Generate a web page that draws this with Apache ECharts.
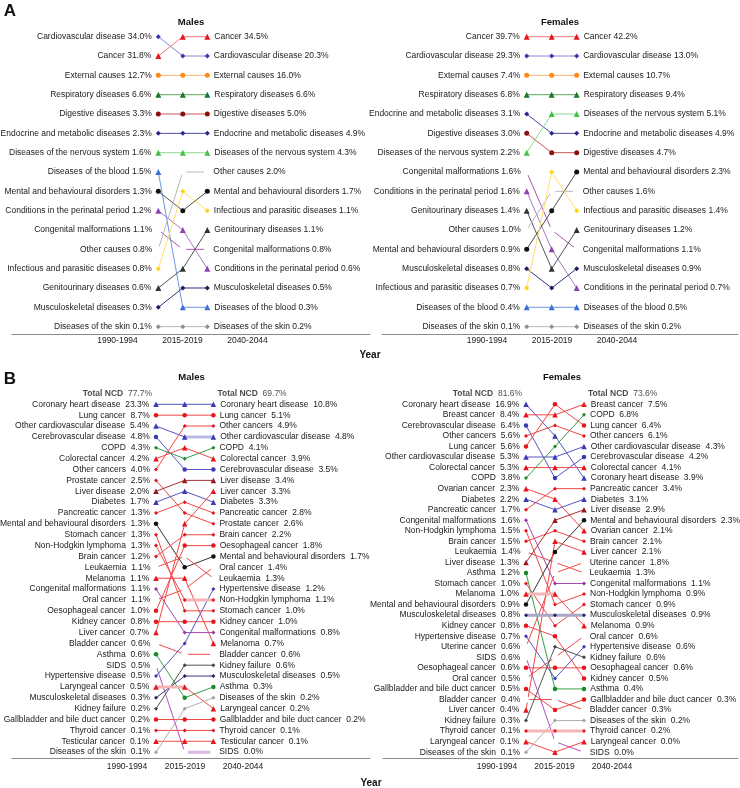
<!DOCTYPE html>
<html><head><meta charset="utf-8">
<script src="https://cdn.jsdelivr.net/npm/echarts@6/dist/echarts.min.js"></script>
<style>html,body{margin:0;padding:0;background:#fff}#c{width:740px;height:788px}</style>
</head><body><div id="c"></div>
<script>
const periods = ['1990-1994', '2015-2019', '2040-2044'];

// ---------- Panel A, Males ----------
const aMaleCauses = ['Cardiovascular disease','Cancer','External causes','Respiratory diseases','Digestive diseases','Endocrine and metabolic diseases','Diseases of the nervous system','Diseases of the blood','Mental and behavioural disorders','Conditions in the perinatal period','Congenital malformations','Other causes','Infectious and parasitic diseases','Genitourinary diseases','Musculoskeletal diseases','Diseases of the skin'];
const aMaleRank1990 = [1,2,3,4,5,6,7,8,9,10,11,12,13,14,15,16];
const aMaleRank2015 = [2,1,3,4,5,6,7,15,10,11,12,8,9,13,14,16];
const aMaleRank2040 = [2,1,3,4,5,6,7,15,9,13,12,8,10,11,14,16];
const aMaleVal1990 = [34.0,31.8,12.7,6.6,3.3,2.3,1.6,1.5,1.3,1.2,1.1,0.8,0.8,0.6,0.3,0.1];
const aMaleVal2040 = [20.3,34.5,16.0,6.6,5.0,4.9,4.3,0.3,1.7,0.6,0.8,2.0,1.1,1.1,0.5,0.2];

// ---------- Panel A, Females ----------
const aFemaleCauses = ['Cancer','Cardiovascular disease','External causes','Respiratory diseases','Endocrine and metabolic diseases','Digestive diseases','Diseases of the nervous system','Congenital malformations','Conditions in the perinatal period','Genitourinary diseases','Other causes','Mental and behavioural disorders','Musculoskeletal diseases','Infectious and parasitic diseases','Diseases of the blood','Diseases of the skin'];
const aFemaleRank1990 = [1,2,3,4,5,6,7,8,9,10,11,12,13,14,15,16];
const aFemaleRank2015 = [1,2,3,4,6,7,5,11,12,13,9,10,14,8,15,16];
const aFemaleRank2040 = [1,2,3,4,6,7,5,12,14,11,9,8,13,10,15,16];
const aFemaleVal1990 = [39.7,29.3,7.4,6.8,3.1,3.0,2.2,1.6,1.6,1.4,1.0,0.9,0.8,0.7,0.4,0.1];
const aFemaleVal2040 = [42.2,13.0,10.7,9.4,4.9,4.7,5.1,1.1,0.7,1.2,1.6,2.3,0.9,1.4,0.5,0.2];

// ---------- Panel B, Males ----------
const bMaleTotal = [77.7, 69.7];
const bMaleCauses = ['Coronary heart disease','Lung cancer','Other cardiovascular disease','Cerebrovascular disease','COPD','Colorectal cancer','Other cancers','Prostate cancer','Liver disease','Diabetes','Pancreatic cancer','Mental and behavioural disorders','Stomach cancer','Non-Hodgkin lymphoma','Brain cancer','Leukaemia','Melanoma','Congenital malformations','Oral cancer','Oesophageal cancer','Kidney cancer','Liver cancer','Bladder cancer','Asthma','SIDS','Hypertensive disease','Laryngeal cancer','Musculoskeletal diseases','Kidney failure','Gallbladder and bile duct cancer','Thyroid cancer','Testicular cancer','Diseases of the skin'];
const bMaleRank1990 = [1,2,3,4,5,6,7,8,9,10,11,12,13,14,15,16,17,18,19,20,21,22,23,24,25,26,27,28,29,30,31,32,33];
const bMaleRank2015 = [1,2,4,7,6,5,3,11,8,9,10,16,20,19,13,15,17,22,18,14,21,12,24,28,33,23,27,26,25,30,31,32,29];
const bMaleRank2040 = [1,2,4,7,5,6,3,12,8,10,11,15,20,19,13,17,23,22,16,14,21,9,24,27,33,18,29,26,25,30,31,32,28];
const bMaleVal1990 = [23.3,8.7,5.4,4.8,4.3,4.2,4.0,2.5,2.0,1.7,1.3,1.3,1.3,1.3,1.2,1.1,1.1,1.1,1.1,1.0,0.8,0.7,0.6,0.6,0.5,0.5,0.5,0.3,0.2,0.2,0.1,0.1,0.1];
const bMaleVal2040 = [10.8,5.1,4.8,3.5,4.1,3.9,4.9,2.6,3.4,3.3,2.8,1.7,1.0,1.1,2.2,1.3,0.7,0.8,1.4,1.8,1.0,3.3,0.6,0.3,0.0,1.2,0.2,0.5,0.6,0.2,0.1,0.1,0.2];
// segments drawn as a light, wide band: [cause, from period index, to period index]
const bMaleBands = [['Other cardiovascular disease',1,2],['Non-Hodgkin lymphoma',1,2],['Laryngeal cancer',0,1],['SIDS',1,2]];

// ---------- Panel B, Females ----------
const bFemaleTotal = [81.6, 73.6];
const bFemaleCauses = ['Coronary heart disease','Breast cancer','Cerebrovascular disease','Other cancers','Lung cancer','Other cardiovascular disease','Colorectal cancer','COPD','Ovarian cancer','Diabetes','Pancreatic cancer','Congenital malformations','Non-Hodgkin lymphoma','Brain cancer','Leukaemia','Liver disease','Asthma','Stomach cancer','Melanoma','Mental and behavioural disorders','Musculoskeletal diseases','Kidney cancer','Hypertensive disease','Uterine cancer','SIDS','Oesophageal cancer','Oral cancer','Gallbladder and bile duct cancer','Bladder cancer','Liver cancer','Kidney failure','Thyroid cancer','Laryngeal cancer','Diseases of the skin'];
const bFemaleRank1990 = [1,2,3,4,5,6,7,8,9,10,11,12,13,14,15,16,17,18,19,20,21,22,23,24,25,26,27,28,29,30,31,32,33,34];
const bFemaleRank2015 = [4,2,8,3,1,6,7,5,10,11,9,18,20,13,16,12,28,22,19,15,21,23,27,17,33,26,25,30,29,14,24,32,34,31];
const bFemaleRank2040 = [8,1,6,4,3,5,7,2,13,10,9,18,19,14,17,11,28,20,22,12,21,27,24,16,34,26,23,29,30,15,25,32,33,31];
const bFemaleVal1990 = [16.9,8.4,6.4,5.6,5.6,5.3,5.3,3.8,2.3,2.2,1.7,1.6,1.5,1.5,1.4,1.3,1.2,1.0,1.0,0.9,0.8,0.8,0.7,0.6,0.6,0.6,0.5,0.5,0.4,0.4,0.3,0.1,0.1,0.1];
const bFemaleVal2040 = [3.9,7.5,4.2,6.1,6.4,4.3,4.1,6.8,2.1,3.1,3.4,1.1,0.9,2.1,1.3,2.9,0.4,0.9,0.9,2.3,0.9,0.5,0.6,1.8,0.0,0.6,0.6,0.3,0.3,2.1,0.6,0.2,0.0,0.2];
const bFemaleBands = [['Melanoma',0,1],['Musculoskeletal diseases',0,2],['Thyroid cancer',0,2]];

// ---------- styles ----------
function S(sym, c, l, band) { return { sym: sym, c: c, l: l, band: band }; }
const styleA = {
  'Cancer': S('triangle', '#e8141c', '#f07878'),
  'Cardiovascular disease': S('diamond', '#3838a8', '#8888d0'),
  'External causes': S('circle', '#ff8a12', '#ffb574'),
  'Respiratory diseases': S('triangle', '#17782a', '#5aa560'),
  'Digestive diseases': S('circle', '#8b1010', '#c85454'),
  'Endocrine and metabolic diseases': S('diamond', '#26268c', '#4c4ca8'),
  'Diseases of the nervous system': S('triangle', '#45bf45', '#8edb8e'),
  'Diseases of the blood': S('triangle', '#3b6fd6', '#6c98e2'),
  'Mental and behavioural disorders': S('circle', '#111111', '#505050'),
  'Conditions in the perinatal period': S('triangle', '#8a45b0', '#a87ac8'),
  'Congenital malformations': S('emptyCircle', '#a02890', '#a858a8'),
  'Other causes': S('emptyDiamond', '#a0a0a0', '#b8b8b8'),
  'Infectious and parasitic diseases': S('diamond', '#ffd21a', '#ffe066'),
  'Genitourinary diseases': S('triangle', '#333333', '#555555'),
  'Musculoskeletal diseases': S('diamond', '#1c1c60', '#33337a'),
  'Diseases of the skin': S('diamond', '#909090', '#b8b8b8')
};
const R = '#e8141c', RL = '#f04848', RB = '#f7b4b4', BL = '#3a3ab4', BLL = '#5656c4', BLB = '#b9b9e6';
const styleB = {
  'Coronary heart disease': S('triangle', BL, BLL, BLB),
  'Other cardiovascular disease': S('triangle', BL, BLL, BLB),
  'Cerebrovascular disease': S('circle', BL, BLL, BLB),
  'Hypertensive disease': S('diamond', BL, BLL, BLB),
  'Diabetes': S('triangle', BL, BLL, BLB),
  'COPD': S('diamond', '#168a2a', '#3c9c4a', '#a8d8b0'),
  'Asthma': S('circle', '#168a2a', '#3c9c4a', '#a8d8b0'),
  'Liver disease': S('triangle', '#961818', '#a83030', '#dca0a0'),
  'Mental and behavioural disorders': S('circle', '#111111', '#333333', '#bbbbbb'),
  'Congenital malformations': S('diamond', '#9a30a8', '#a848b4', '#dcb4e4'),
  'SIDS': S('emptyCircle', '#a038b0', '#b050c0', '#dcb8e6'),
  'Musculoskeletal diseases': S('diamond', '#22226a', '#3a3a82', '#a8a8c8'),
  'Kidney failure': S('diamond', '#444444', '#555555', '#bbbbbb'),
  'Diseases of the skin': S('diamond', '#a0a0a0', '#b0b0b0', '#dddddd'),
  'Lung cancer': S('circle', R, RL, RB),
  'Other cancers': S('diamond', R, RL, RB),
  'Colorectal cancer': S('triangle', R, RL, RB),
  'Prostate cancer': S('diamond', R, RL, RB),
  'Pancreatic cancer': S('diamond', R, RL, RB),
  'Stomach cancer': S('diamond', R, RL, RB),
  'Non-Hodgkin lymphoma': S('diamond', R, RL, RB),
  'Brain cancer': S('diamond', R, RL, RB),
  'Leukaemia': S('emptyDiamond', R, RL, RB),
  'Melanoma': S('triangle', R, RL, RB),
  'Oral cancer': S('emptyCircle', R, RL, RB),
  'Oesophageal cancer': S('circle', R, RL, RB),
  'Kidney cancer': S('circle', R, RL, RB),
  'Liver cancer': S('triangle', R, RL, RB),
  'Bladder cancer': S('emptyCircle', R, RL, RB),
  'Laryngeal cancer': S('triangle', R, RL, RB),
  'Gallbladder and bile duct cancer': S('circle', R, RL, RB),
  'Thyroid cancer': S('diamond', R, RL, RB),
  'Testicular cancer': S('triangle', R, RL, RB),
  'Breast cancer': S('triangle', R, RL, RB),
  'Ovarian cancer': S('triangle', R, RL, RB),
  'Uterine cancer': S('emptyCircle', R, RL, RB)
};

const FONT = '"Liberation Sans", Arial, sans-serif';
const TXT = '#1a1a1a';

// ---------- layout (pixels) ----------
const panels = [
  { causes: aMaleCauses, r: [aMaleRank1990, aMaleRank2015, aMaleRank2040], v0: aMaleVal1990, v2: aMaleVal2040, style: styleA, sep: ' ', big: true,
    gL: 12, gR: 370, x0: 158.3, xs: 24.5, row1: 36.7, rs: 19.33, axisY: 334, lc: 117.5, lsp: 65, lm: 1 },
  { causes: aFemaleCauses, r: [aFemaleRank1990, aFemaleRank2015, aFemaleRank2040], v0: aFemaleVal1990, v2: aFemaleVal2040, style: styleA, sep: ' ', big: true,
    gL: 382, gR: 738, x0: 526.7, xs: 25, row1: 36.7, rs: 19.33, axisY: 334, lc: 487, lsp: 65, lm: 1 },
  { causes: bMaleCauses, r: [bMaleRank1990, bMaleRank2015, bMaleRank2040], v0: bMaleVal1990, v2: bMaleVal2040, style: styleB, sep: '  ', big: false, total: bMaleTotal, bands: bMaleBands,
    gL: 12, gR: 370, x0: 156, xs: 28.7, row1: 404.3, rs: 10.87, axisY: 758.3, lc: 127, lsp: 58, lm: 3 },
  { causes: bFemaleCauses, r: [bFemaleRank1990, bFemaleRank2015, bFemaleRank2040], v0: bFemaleVal1990, v2: bFemaleVal2040, style: styleB, sep: '  ', big: false, total: bFemaleTotal, bands: bFemaleBands,
    gL: 383, gR: 738, x0: 526, xs: 29, row1: 404.3, rs: 10.542, axisY: 758.3, lc: 497, lsp: 57.5, lm: 3 }
];

const grid = [], xAxis = [], yAxis = [], series = [];
panels.forEach(function (p, pi) {
  const top = p.row1 - p.rs;
  const gi = grid.length;
  grid.push({ left: p.gL, top: top, width: p.gR - p.gL, height: p.axisY - top, outerBoundsMode: 'none', containLabel: false });
  xAxis.push({ type: 'value', gridIndex: gi, min: (p.gL - p.x0) / p.xs, max: (p.gR - p.x0) / p.xs,
    axisLine: { show: true, onZero: false, lineStyle: { color: '#8a8a8a', width: 1 } },
    axisTick: { show: false }, axisLabel: { show: false }, splitLine: { show: false } });
  yAxis.push({ type: 'value', gridIndex: gi, inverse: true, min: 0, max: (p.axisY - top) / p.rs, show: false,
    splitLine: { show: false } });
  // label axis grid
  const li = grid.length;
  grid.push({ left: p.lc - p.lsp / 2, top: p.axisY - 1, width: p.lsp * 3, height: 1, outerBoundsMode: 'none', containLabel: false });
  xAxis.push({ type: 'category', gridIndex: li, data: periods, boundaryGap: true,
    axisLine: { show: false }, axisTick: { show: false }, splitLine: { show: false },
    axisLabel: { show: true, margin: p.lm + 1, fontSize: 8.5, color: TXT, fontFamily: FONT } });
  yAxis.push({ type: 'value', gridIndex: li, show: false, splitLine: { show: false } });

  const fs = 8.5;
  p.causes.forEach(function (name, i) {
    const st = p.style[name];
    const empty = st.sym.indexOf('empty') === 0;
    const tri = st.sym.indexOf('riangle') >= 0, dia = st.sym.indexOf('iamond') >= 0;
    let size;
    if (p.big) size = tri ? 6 : 5;
    else size = tri ? 5.5 : (dia ? 4 : 4.5);
    series.push({
      type: 'line', name: name + '-' + pi, xAxisIndex: gi, yAxisIndex: gi,
      symbol: st.sym, symbolSize: size, showSymbol: true, silent: true, animation: false, z: 2,
      lineStyle: { color: st.l, width: 1 },
      itemStyle: { color: empty ? '#ffffff' : st.c, borderColor: st.c, borderWidth: empty ? 1 : 0 },
      label: { show: false, fontSize: fs, color: TXT, fontFamily: FONT, distance: empty ? 2.5 : 4 },
      emphasis: { disabled: true },
      data: [
        { value: [0, p.r[0][i]], label: { show: true, position: 'left', formatter: name + p.sep + p.v0[i].toFixed(1) + '%' } },
        { value: [1, p.r[1][i]] },
        { value: [2, p.r[2][i]], label: { show: true, position: 'right', formatter: name + p.sep + p.v2[i].toFixed(1) + '%' } }
      ]
    });
  });
  (p.bands || []).forEach(function (b) {
    const i = p.causes.indexOf(b[0]);
    const st = p.style[b[0]];
    const pts = [];
    for (let k = b[1]; k <= b[2]; k++) pts.push([k, p.r[k][i]]);
    series.push({
      type: 'line', xAxisIndex: gi, yAxisIndex: gi, symbol: 'none', silent: true, animation: false, z: 2,
      lineStyle: { color: st.band, width: 3 }, emphasis: { disabled: true }, data: pts
    });
  });
  if (p.total) {
    const rich = { b: { fontWeight: 'bold', fontSize: fs, fontFamily: FONT, color: TXT } };
    series.push({
      type: 'scatter', xAxisIndex: gi, yAxisIndex: gi, symbolSize: 0, silent: true, animation: false,
      label: { show: true, fontSize: fs, color: TXT, fontFamily: FONT, distance: 4, rich: rich },
      data: [
        { value: [0, 0], label: { position: 'left', formatter: '{b|Total NCD}  ' + p.total[0].toFixed(1) + '%' } },
        { value: [2, 0], label: { position: 'right', formatter: '{b|Total NCD}  ' + p.total[1].toFixed(1) + '%' } }
      ]
    });
  }
});

function T(x, y, text, size, weight) {
  return { type: 'text', x: x, y: y, silent: true,
    style: { text: text, fontSize: size, fontWeight: weight || 'normal', fontFamily: FONT, fill: '#111', textAlign: 'center', textVerticalAlign: 'middle' } };
}
const graphic = [
  T(10, 11, 'A', 17, 'bold'),
  T(10, 379, 'B', 17, 'bold'),
  T(191, 22, 'Males', 9.5, 'bold'),
  T(560, 22, 'Females', 9.5, 'bold'),
  T(191.5, 377.5, 'Males', 9.5, 'bold'),
  T(562, 377.5, 'Females', 9.5, 'bold'),
  T(370, 355.5, 'Year', 10, 'bold'),
  T(371, 783, 'Year', 10, 'bold')
];

const chart = echarts.init(document.getElementById('c'), null, { renderer: 'canvas' });
chart.setOption({ animation: false, backgroundColor: '#ffffff', grid: grid, xAxis: xAxis, yAxis: yAxis, series: series, graphic: graphic });
</script></body></html>
